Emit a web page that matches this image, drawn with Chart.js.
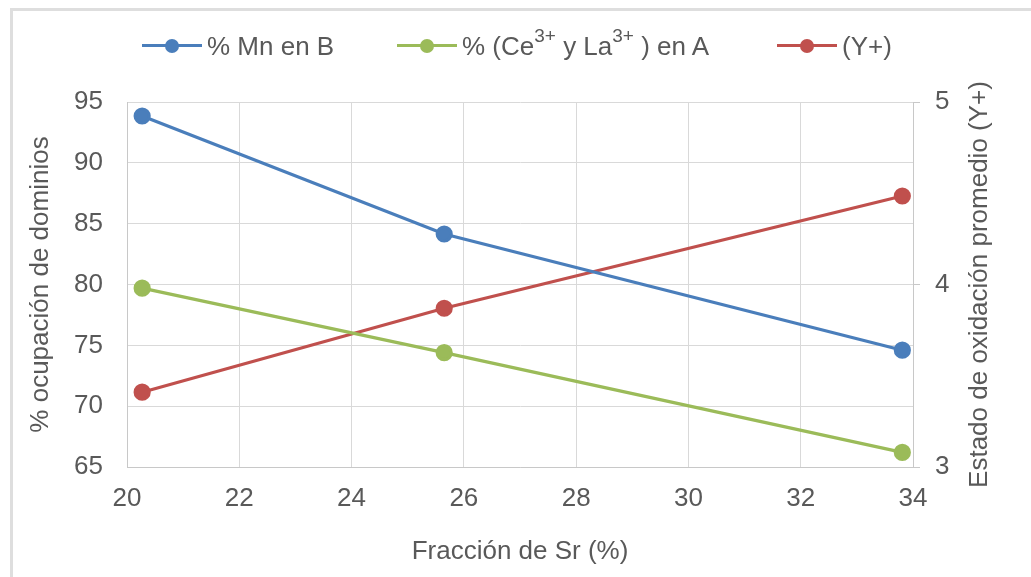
<!DOCTYPE html>
<html>
<head>
<meta charset="utf-8">
<script src="https://cdn.jsdelivr.net/npm/chart.js@4/dist/chart.umd.min.js"></script>
<style>
  html, body { margin:0; padding:0; background:#fff; }
  #wrap { position:relative; width:1031px; height:577px; overflow:hidden; font-family:"Liberation Sans", Arial, sans-serif; }
  #frame { position:absolute; left:10px; top:8px; width:1100px; height:700px; border-left:3px solid #dedede; border-top:3px solid #dedede; }
  canvas { position:absolute; left:0; top:0; }
  .lg { position:absolute; top:30px; height:32px; display:flex; align-items:center; font-size:26px; color:#595959; white-space:nowrap; }
  .sw { position:relative; width:60px; height:32px; margin-right:5px; }
  .sw .ln { position:absolute; left:0; right:0; top:14px; height:3px; }
  .sw .dt { position:absolute; left:23px; top:8.5px; width:14px; height:14px; border-radius:50%; }
  sup { font-size:19px; position:relative; top:-3px; vertical-align:super; line-height:0; }
</style>
</head>
<body>
<div id="wrap">
  <div id="frame"></div>
  <canvas id="c" width="1031" height="577"></canvas>
  <div class="lg" id="lg0" style="left:142px"></div>
  <div class="lg" id="lg1" style="left:397px"></div>
  <div class="lg" id="lg2" style="left:777px"></div>
</div>
<script>
// ---- data ----
const srFraction = [20.27, 25.65, 33.81];
const mnEnB = [93.85, 84.15, 74.6];
const ceLaEnA = [79.7, 74.4, 66.2];
const yPlus = [3.41, 3.87, 4.485];
const seriesNames = ['% Mn en B', '% (Ce<sup>3+</sup> y La<sup>3+</sup> ) en A', '(Y+)'];
const xTicks = [20, 22, 24, 26, 28, 30, 32, 34];
const yLeftTicks = [65, 70, 75, 80, 85, 90, 95];
const yRightTicks = [3, 4, 5];
const rightTitle = 'Estado de oxidación promedio (Y+)';

const colors = ['#4a7ebb', '#9bbb59', '#c0504d'];
const txt = '#595959';
const font = { family: '"Liberation Sans", Arial, sans-serif', size: 26 };

function pts(ys) { return srFraction.map((x, i) => ({ x: x, y: ys[i] })); }

// HTML legend
seriesNames.forEach((n, i) => {
  const el = document.getElementById('lg' + i);
  el.innerHTML = '<div class="sw"><div class="ln" style="background:' + colors[i] + '"></div><div class="dt" style="background:' + colors[i] + '"></div></div><span>' + n + '</span>';
});

const ds = (label, data, color, axis) => ({
  label, data: pts(data), yAxisID: axis,
  borderColor: color, backgroundColor: color,
  pointBackgroundColor: color, pointBorderColor: color,
  borderWidth: 3.2, pointRadius: 7, pointHoverRadius: 7, tension: 0
});

// Right-axis title reading bottom-to-top, like the left one
const rightTitlePlugin = {
  id: 'rightTitle',
  afterDraw(chart) {
    const ctx = chart.ctx, s = chart.scales.y1;
    const cy = (chart.chartArea.top + chart.chartArea.bottom) / 2;
    ctx.save();
    ctx.translate(s.right - 51, cy);
    ctx.rotate(-Math.PI / 2);
    ctx.font = font.size + 'px ' + font.family;
    ctx.fillStyle = txt;
    ctx.textAlign = 'center';
    ctx.textBaseline = 'middle';
    ctx.fillText(rightTitle, 0, 0);
    ctx.restore();
  }
};

new Chart(document.getElementById('c'), {
  type: 'line',
  data: {
    datasets: [
      ds('% Mn en B', mnEnB, colors[0], 'y'),
      ds('% (Ce3+ y La3+) en A', ceLaEnA, colors[1], 'y'),
      ds('(Y+)', yPlus, colors[2], 'y1')
    ]
  },
  plugins: [rightTitlePlugin],
  options: {
    responsive: false, animation: false,
    layout: { padding: { top: 102, left: 0, right: 0, bottom: 0 } },
    plugins: { legend: { display: false }, tooltip: { enabled: false } },
    scales: {
      x: {
        type: 'linear', min: xTicks[0], max: xTicks[xTicks.length - 1],
        afterBuildTicks: s => { s.ticks = xTicks.map(v => ({ value: v })); },
        afterFit: s => { s.height = 110; },
        ticks: { color: txt, font, padding: 16, maxRotation: 0 },
        grid: { color: '#d9d9d9', lineWidth: 1, drawTicks: false },
        border: { color: '#c8c8c8', width: 1 },
        title: { display: true, text: 'Fracción de Sr (%)', color: txt, font, padding: { top: 0, bottom: 10 } }
      },
      y: {
        position: 'left', min: 65, max: 95,
        afterBuildTicks: s => { s.ticks = yLeftTicks.map(v => ({ value: v })); },
        afterFit: s => { s.width = 127; },
        ticks: { color: txt, font, padding: 24 },
        grid: { color: '#d9d9d9', lineWidth: 1, drawTicks: false },
        border: { color: '#c8c8c8', width: 1 },
        title: { display: true, text: '% ocupación de dominios', color: txt, font, padding: { top: 25, bottom: 0 } }
      },
      y1: {
        position: 'right', min: 3, max: 5,
        afterBuildTicks: s => { s.ticks = yRightTicks.map(v => ({ value: v })); },
        afterFit: s => { s.width = 118; },
        ticks: { color: txt, font, padding: 15 },
        grid: { drawOnChartArea: false, drawTicks: true, tickLength: 7, color: '#c8c8c8' },
        border: { color: '#c8c8c8', width: 1 },
        title: { display: false }
      }
    }
  }
});
</script>
</body>
</html>
